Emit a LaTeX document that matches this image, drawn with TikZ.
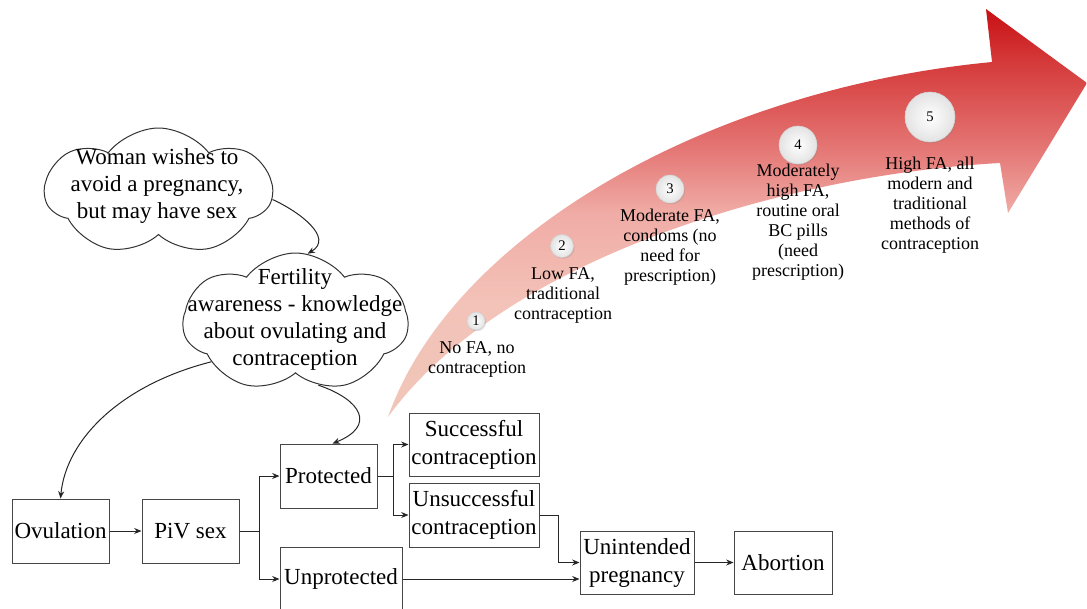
\documentclass[tikz,border=0pt]{standalone}
\usepackage{fontspec}
\setmainfont{Liberation Serif}
\usetikzlibrary{shapes.symbols,arrows.meta,shadows}

% colours of the rising arrow, from its pale tail to its deep red head
\definecolor{tailpink}{RGB}{240,198,184}
\definecolor{arrowB}{RGB}{243,194,184}
\definecolor{arrowC}{RGB}{240,172,166}
\definecolor{arrowD}{RGB}{228,118,116}
\definecolor{arrowE}{RGB}{212,55,55}
\definecolor{arrowF}{RGB}{200,15,20}
\definecolor{boxline}{RGB}{70,70,70}

\pgfdeclareverticalshading{arrowshade}{100bp}{%
  color(0bp)=(tailpink); color(25bp)=(tailpink); color(39bp)=(arrowB);
  color(50bp)=(arrowC); color(58bp)=(arrowD); color(69bp)=(arrowE);
  color(75bp)=(arrowF); color(100bp)=(arrowF)}

\tikzset{
  boxfont/.style={font=\fontsize{17.25}{21}\selectfont},
  stepbox/.style={draw=boxline, line width=0.75pt, fill=white, inner sep=0pt,
    align=center, boxfont},
  cloudshape/.style={cloud, draw=black!80, line width=0.75pt, fill=white,
    cloud puffs=7, cloud puff arc=105, inner sep=0pt},
  cloudtext/.style={align=center, inner sep=0pt,
    font=\fontsize{17.25}{20.25}\selectfont},
  lab/.style={align=center, inner sep=0pt, font=\fontsize{13.5}{15}\selectfont},
  numball/.style={circle, draw=gray!35, line width=0.4pt, inner sep=0pt,
    inner color=white, outer color=gray!22,
    drop shadow={opacity=0.25, shadow xshift=0.8pt, shadow yshift=-0.9pt},
    font=\fontsize{11}{12}\selectfont},
  conn/.style={draw=black!85, line width=0.75pt, -{Stealth[length=5.5pt,width=4.5pt]}},
  plainline/.style={draw=black!85, line width=0.75pt},
}

\begin{document}
\begin{tikzpicture}[x=0.75pt, y=-0.75pt]
\useasboundingbox (0,0) rectangle (1087,608);
\clip (0,0) rectangle (1087,608);

% rising arrow of fertility awareness
\shade[shading=arrowshade]
  (388,417) .. controls (450,240) and (700,90) .. (992,62)
  -- (986,9) -- (1087,83) -- (1008,213) -- (1000,163)
  .. controls (780,175) and (500,262) .. (388,417) -- cycle;

% stage markers along the arrow
\node[numball, minimum size={18*0.75pt}] (n1) at (476,321) {1};
\node[numball, minimum size={23*0.75pt}] (n2) at (562,246) {2};
\node[numball, minimum size={28*0.75pt}] (n3) at (670,189) {3};
\node[numball, minimum size={38*0.75pt}] (n4) at (798,145) {4};
\node[numball, minimum size={50*0.75pt}] (n5) at (930,117) {5};

\node[lab] (l1) at (477,359) {No FA, no\\contraception};
\node[lab] (l2) at (563,295) {Low FA,\\traditional\\contraception};
\node[lab] (l3) at (670,247.5) {Moderate FA,\\condoms (no\\need for\\prescription)};
\node[lab] (l4) at (798,222.5) {Moderately\\high FA,\\routine oral\\BC pills\\(need\\prescription)};
\node[lab] (l5) at (930,205) {High FA, all\\modern and\\traditional\\methods of\\contraception};

% thought clouds
\node[cloudshape, aspect=1.8, minimum width={227*0.75pt}, minimum height={127*0.75pt}]
  (cl1) at (158.5,191.5) {};
\node[cloudtext] (cl1txt) at (157,186) {Woman wishes to\\avoid a pregnancy,\\but may have sex};
\node[cloudshape, aspect=1.6, minimum width={225*0.75pt}, minimum height={139*0.75pt}]
  (cl2) at (295.5,322.5) {};
\node[cloudtext] (cl2txt) at (295,319) {Fertility\\awareness - knowledge\\about ovulating and\\contraception};

% flow boxes
\node[stepbox, minimum width={97*0.75pt}, minimum height={64*0.75pt}] (ovu) at (60.5,531) {Ovulation};
\node[stepbox, minimum width={97*0.75pt}, minimum height={64*0.75pt}] (piv) at (190.5,531) {PiV sex};
\node[stepbox, minimum width={97*0.75pt}, minimum height={64*0.75pt}] (prot) at (328.5,476) {Protected};
\node[stepbox, minimum width={122*0.75pt}, minimum height={64*0.75pt}] (unprot) at (341,579) {Unprotected};
\node[stepbox, minimum width={130*0.75pt}, minimum height={63*0.75pt}] (succ) at (474,444.5) {Successful\\contraception};
\node[stepbox, minimum width={130*0.75pt}, minimum height={64*0.75pt}] (unsucc) at (474,515) {Unsuccessful\\contraception};
\node[stepbox, minimum width={114*0.75pt}, minimum height={63*0.75pt}] (unint) at (637,562.5) {Unintended\\pregnancy};
\node[stepbox, minimum width={98*0.75pt}, minimum height={63*0.75pt}] (abort) at (783,562.5) {Abortion};

% curved links from the clouds
\draw[conn] (cl1.-4) .. controls (300,212) and (334,238) .. (cl2.80);
\draw[conn] (cl2.205) .. controls (120,385) and (66,440) .. (ovu.north);
\draw[conn] (cl2.290) .. controls (362,400) and (376,426) .. ([xshift=3pt]prot.north);

% branching flow
\coordinate (s1) at (259,531);
\coordinate (s2) at (393,476);
\coordinate (s3) at (558,515);
\draw[conn] (ovu.east) -- (piv.west);
\draw[plainline] (piv.east) -- (s1);
\draw[conn] (s1) |- (prot.west);
\draw[conn] (s1) |- (unprot.west);
\draw[plainline] (prot.east) -- (s2);
\draw[conn] (s2) |- (succ.west);
\draw[conn] (s2) |- (unsucc.west);
\draw[conn] (unsucc.east) -- (s3) |- (unint.west);
\draw[conn] (unprot.east) -- (unprot.east -| unint.west);
\draw[conn] (unint.east) -- (abort.west);
\end{tikzpicture}
\end{document}
